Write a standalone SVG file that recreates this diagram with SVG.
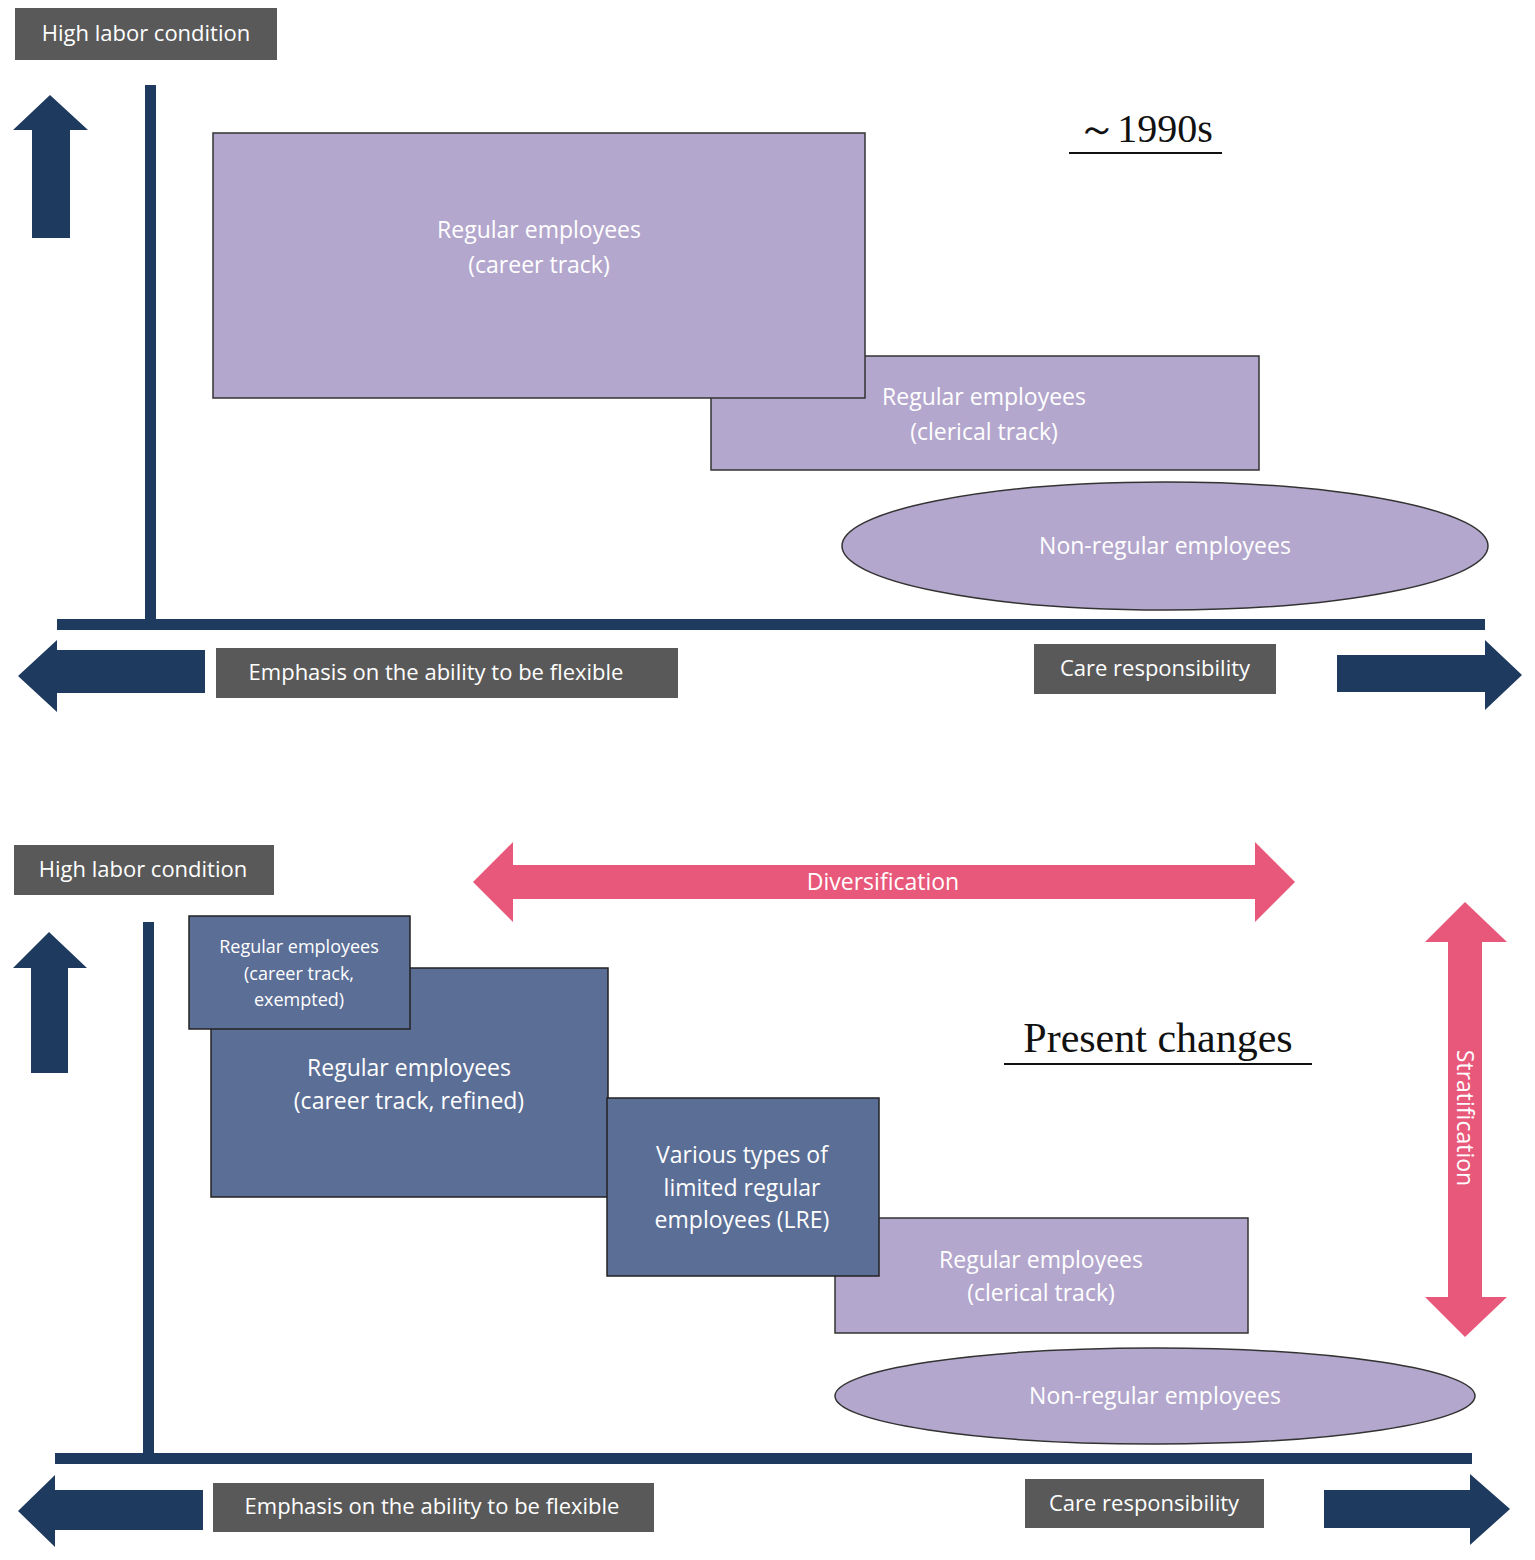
<svg xmlns="http://www.w3.org/2000/svg" width="1535" height="1560" viewBox="0 0 1535 1560">
<style>
.nav{fill:#1f3a5f}
.lab{fill:#595959}
.lt{font-family:"Open Sans",sans-serif;font-size:22px;fill:#fff;text-anchor:middle}
.pur{fill:#b4a7cd;stroke:#333;stroke-width:1.5}
.dk{fill:#5b6e96;stroke:#222;stroke-width:1.5}
.bt{font-family:"Open Sans",sans-serif;font-size:23px;fill:#fff;text-anchor:middle}
.st{font-family:"Open Sans",sans-serif;font-size:18px;fill:#fff;text-anchor:middle}
.pk{fill:#e8587a}
.ser{font-family:"Liberation Serif",serif;fill:#111;text-anchor:middle}
</style>
<rect width="1535" height="1560" fill="#fff"/>
<g id="axes">
<polygon class="nav" points="32,238 32,130 13,130 50,95 88,130 70,130 70,238"/>
<rect class="nav" x="145" y="85" width="11" height="535"/>
<rect class="nav" x="57" y="619" width="1428" height="11"/>
<polygon class="nav" points="205,650 57,650 57,640 18,676 57,712 57,693 205,693"/>
<polygon class="nav" points="1337,655 1485,655 1485,640 1522,675 1485,710 1485,692 1337,692"/>
<polygon class="nav" points="31,1073 31,968 13,968 49,932 87,968 68,968 68,1073"/>
<rect class="nav" x="143" y="922" width="11" height="533"/>
<rect class="nav" x="55" y="1453" width="1417" height="11"/>
<polygon class="nav" points="203,1490 55,1490 55,1475 18,1511 55,1547 55,1530 203,1530"/>
<polygon class="nav" points="1324,1490 1470,1490 1470,1474 1510,1509 1470,1545 1470,1528 1324,1528"/>
</g>
<g id="labels">
<rect class="lab" x="15" y="8" width="262" height="52"/><text class="lt" x="146" y="41">High labor condition</text>
<rect class="lab" x="216" y="648" width="462" height="50"/><text class="lt" x="436" y="680">Emphasis on the ability to be flexible</text>
<rect class="lab" x="1034" y="644" width="242" height="50"/><text class="lt" x="1155" y="676">Care responsibility</text>
<rect class="lab" x="14" y="845" width="260" height="50"/><text class="lt" x="143" y="877">High labor condition</text>
<rect class="lab" x="213" y="1483" width="441" height="49"/><text class="lt" x="432" y="1514">Emphasis on the ability to be flexible</text>
<rect class="lab" x="1025" y="1479" width="239" height="49"/><text class="lt" x="1144" y="1511">Care responsibility</text>
</g>
<g id="titles">
<text class="ser" x="1145" y="142" font-size="40">～1990s</text>
<rect x="1069" y="152" width="153" height="2" fill="#111"/>
<text class="ser" x="1158" y="1052" font-size="42">Present changes</text>
<rect x="1004" y="1063" width="308" height="2" fill="#111"/>
</g>
<g id="top-clerical"><rect class="pur" x="711" y="356" width="548" height="114"/>
<text class="bt" x="984" y="405">Regular employees</text><text class="bt" x="984" y="440">(clerical track)</text></g>
<g id="top-career"><rect class="pur" x="213" y="133" width="652" height="265"/>
<text class="bt" x="539" y="238">Regular employees</text><text class="bt" x="539" y="273">(career track)</text></g>
<g id="top-nonregular"><ellipse class="pur" cx="1165" cy="546" rx="323" ry="64"/>
<text class="bt" x="1165" y="554">Non-regular employees</text></g>
<g id="diversification"><polygon class="pk" points="473,882 513,842 513,865 1255,865 1255,842 1295,882 1255,922 1255,899 513,899 513,922"/>
<text class="bt" x="883" y="890">Diversification</text></g>
<g id="stratification"><polygon class="pk" points="1465,902 1507,942 1482,942 1482,1297 1507,1297 1465,1337 1425,1297 1448,1297 1448,942 1425,942"/>
<text class="bt" transform="translate(1457,1118) rotate(90)" x="0" y="0">Stratification</text></g>
<g id="bot-refined"><rect class="dk" x="211" y="968" width="397" height="229"/>
<text class="bt" x="409" y="1076">Regular employees</text><text class="bt" x="409" y="1109">(career track, refined)</text></g>
<g id="bot-exempted"><rect class="dk" x="189" y="916" width="221" height="113"/>
<text class="st" x="299" y="953">Regular employees</text><text class="st" x="299" y="980">(career track,</text><text class="st" x="299" y="1006">exempted)</text></g>
<g id="bot-clerical"><rect class="pur" x="835" y="1218" width="413" height="115"/>
<text class="bt" x="1041" y="1268">Regular employees</text><text class="bt" x="1041" y="1301">(clerical track)</text></g>
<g id="bot-lre"><rect class="dk" x="607" y="1098" width="272" height="178"/>
<text class="bt" x="742" y="1163">Various types of</text><text class="bt" x="742" y="1196">limited regular</text><text class="bt" x="742" y="1228">employees (LRE)</text></g>
<g id="bot-nonregular"><ellipse class="pur" cx="1155" cy="1396" rx="320" ry="48"/>
<text class="bt" x="1155" y="1404">Non-regular employees</text></g>
</svg>
